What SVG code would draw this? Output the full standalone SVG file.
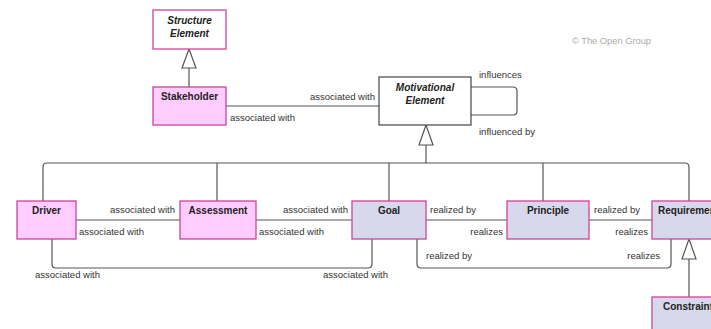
<svg xmlns="http://www.w3.org/2000/svg" width="711" height="329" viewBox="0 0 711 329">
<style>
.box{stroke:#cc4499;stroke-width:1.3}
.pink{fill:#ffccff}
.lav{fill:#d8d8ec}
.white{fill:#ffffff}
.name{font-family:"Liberation Sans",Arial,sans-serif;font-size:10px;font-weight:bold;fill:#222;text-anchor:middle}
.ital{font-style:italic}
.lbl{font-family:"Liberation Sans",Arial,sans-serif;font-size:9.5px;fill:#333}
.end{text-anchor:end}
.conn path{fill:none;stroke:#555;stroke-width:1.2}
.tri{fill:#fff;stroke:#555;stroke-width:1.2}
</style>
<rect width="711" height="329" fill="#fff"/>
<text x="572" y="44" font-family="Liberation Sans, Arial, sans-serif" font-size="9.3px" fill="#aaa">© The Open Group</text>

<g id="connectors" class="conn">
  <path d="M189 87 V68"/>
  <polygon class="tri" points="189,49 182,68 196,68"/>
  <path d="M226 106 H379"/>
  <path d="M471 87 H513 Q517 87 517 91 V111 Q517 115 513 115 H471"/>
  <path d="M426 145 V163"/>
  <polygon class="tri" points="426,125 419,145 433,145"/>
  <path d="M43 201 V167 Q43 163 47 163 H685 Q689 163 689 167 V201"/>
  <path d="M217 163 V201"/>
  <path d="M389 163 V201"/>
  <path d="M543 163 V201"/>
  <path d="M76 220 H180"/>
  <path d="M256 220 H352"/>
  <path d="M426 220 H507"/>
  <path d="M589 220 H652"/>
  <path d="M52 239 V264 Q52 268 56 268 H368 Q372 268 372 264 V239"/>
  <path d="M417 239 V264 Q417 268 421 268 H667 Q671 268 671 264 V239"/>
  <path d="M689 259 V297"/>
  <polygon class="tri" points="689,239 682,259 696,259"/>
</g>

<g id="structure-element">
  <rect class="box white" x="153" y="10" width="73" height="39"/>
  <text class="name ital" x="189.5" y="24">Structure</text>
  <text class="name ital" x="189.5" y="37">Element</text>
</g>
<g id="stakeholder">
  <rect class="box pink" x="153" y="87" width="73" height="38"/>
  <text class="name" x="189.5" y="100">Stakeholder</text>
</g>
<g id="motivational-element">
  <rect x="379" y="77" width="92" height="48" fill="#fff" stroke="#444" stroke-width="1.2"/>
  <text class="name ital" x="425" y="91">Motivational</text>
  <text class="name ital" x="425" y="104">Element</text>
</g>
<g id="driver">
  <rect class="box pink" x="17" y="201" width="59" height="38"/>
  <text class="name" x="46.5" y="214">Driver</text>
</g>
<g id="assessment">
  <rect class="box pink" x="180" y="201" width="76" height="38"/>
  <text class="name" x="218" y="214">Assessment</text>
</g>
<g id="goal">
  <rect class="box lav" x="352" y="201" width="74" height="38"/>
  <text class="name" x="389" y="214">Goal</text>
</g>
<g id="principle">
  <rect class="box lav" x="507" y="201" width="82" height="38"/>
  <text class="name" x="548" y="214">Principle</text>
</g>
<g id="requirement">
  <rect class="box lav" x="652" y="201" width="80" height="38"/>
  <text class="name" x="658" y="214" style="text-anchor:start">Requirement</text>
</g>
<g id="constraint">
  <rect class="box lav" x="652" y="297" width="80" height="38"/>
  <text class="name" x="663" y="310" style="text-anchor:start">Constraint</text>
</g>

<g id="labels">
  <text class="lbl end" x="375" y="100">associated with</text>
  <text class="lbl" x="230" y="121">associated with</text>
  <text class="lbl" x="479" y="78">influences</text>
  <text class="lbl" x="479" y="135">influenced by</text>
  <text class="lbl end" x="175" y="213">associated with</text>
  <text class="lbl" x="79" y="235">associated with</text>
  <text class="lbl end" x="348" y="213">associated with</text>
  <text class="lbl" x="259" y="235">associated with</text>
  <text class="lbl" x="430" y="213">realized by</text>
  <text class="lbl end" x="503" y="235">realizes</text>
  <text class="lbl" x="594" y="213">realized by</text>
  <text class="lbl end" x="648" y="235">realizes</text>
  <text class="lbl" x="426" y="259">realized by</text>
  <text class="lbl end" x="660" y="259">realizes</text>
  <text class="lbl" x="35" y="278">associated with</text>
  <text class="lbl end" x="388" y="278">associated with</text>
</g>
</svg>
